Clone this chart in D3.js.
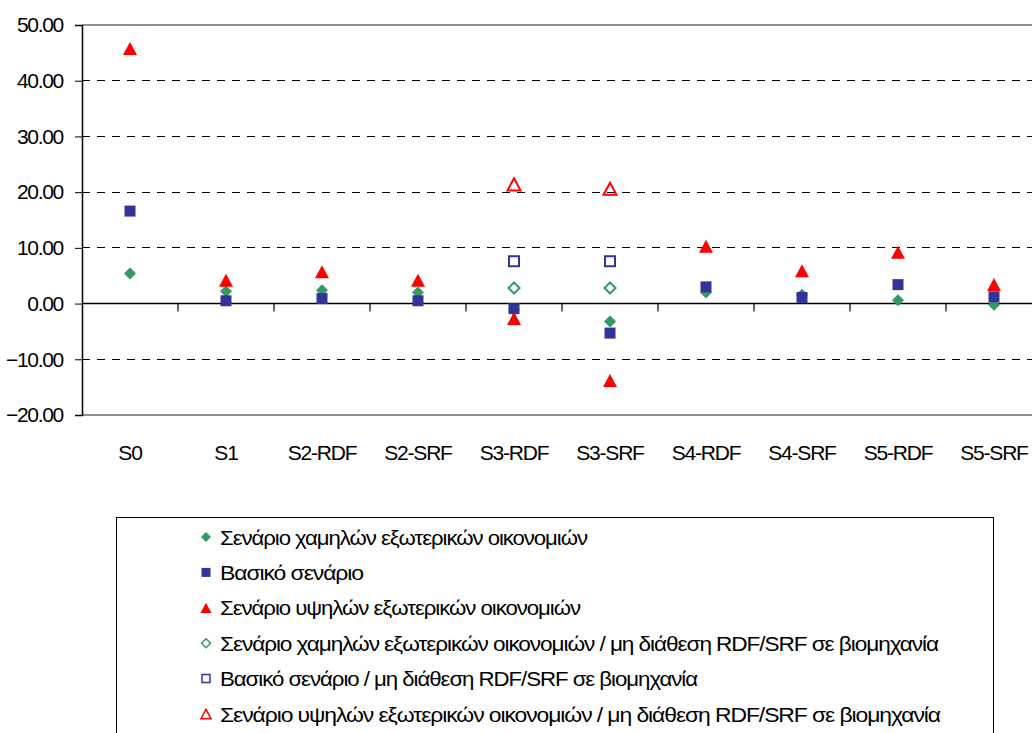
<!DOCTYPE html>
<html>
<head>
<meta charset="utf-8">
<script src="https://cdn.jsdelivr.net/npm/d3@7"></script>
<style>
  html, body { margin: 0; padding: 0; background: #fff; }
  svg { display: block; font-family: "Liberation Sans", Arial, sans-serif; }
</style>
</head>
<body>
<svg id="chart" width="1032" height="733"></svg>
<script>
// Scenario categories along the horizontal axis
const categories = ["S0", "S1", "S2-RDF", "S2-SRF", "S3-RDF", "S3-SRF", "S4-RDF", "S4-SRF", "S5-RDF", "S5-SRF"];

// Series values (null = no point for that scenario)
const lowExternal   = [5.4, 2.2, 2.4, 2.0, -1.2, -3.2, 2.0, 1.6, 0.6, -0.2];
const baseScenario  = [16.6, 0.5, 0.9, 0.5, -0.9, -5.3, 3.0, 1.1, 3.4, 1.2];
const highExternal  = [45.8, 4.2, 5.7, 4.2, -2.7, -13.8, 10.3, 5.9, 9.2, 3.4];
const lowNoIndustry  = [null, null, null, null, 2.8, 2.8, null, null, null, null];
const baseNoIndustry = [null, null, null, null, 7.6, 7.6, null, null, null, null];
const highNoIndustry = [null, null, null, null, 21.4, 20.6, null, null, null, null];

const yTicks = [-20, -10, 0, 10, 20, 30, 40, 50];

const seriesNames = [
  "Σενάριο χαμηλών εξωτερικών οικονομιών",
  "Βασικό σενάριο",
  "Σενάριο υψηλών εξωτερικών οικονομιών",
  "Σενάριο χαμηλών εξωτερικών οικονομιών / μη διάθεση RDF/SRF σε βιομηχανία",
  "Βασικό σενάριο / μη διάθεση RDF/SRF σε βιομηχανία",
  "Σενάριο υψηλών εξωτερικών οικονομιών / μη διάθεση RDF/SRF σε βιομηχανία"
];

const GREEN = "#339966", BLUE = "#333399", RED = "#ff0000";

// Marker shapes: diamond (rotated square), square, triangle with bbox centred on the value
const diamondShape = { draw(ctx, size) { const r = Math.sqrt(size) / 2; ctx.moveTo(0, -r); ctx.lineTo(r, 0); ctx.lineTo(0, r); ctx.lineTo(-r, 0); ctx.closePath(); } };
const squareShape  = { draw(ctx, size) { const r = Math.sqrt(size) / 2; ctx.rect(-r, -r, 2 * r, 2 * r); } };
const triangleShape = { draw(ctx, size) { const w = Math.sqrt(size) / 2, h = w * 0.93; ctx.moveTo(0, -h); ctx.lineTo(w, h); ctx.lineTo(-w, h); ctx.closePath(); } };

const series = [
  { name: seriesNames[0], values: lowExternal,    shape: diamondShape,  size: 144, color: GREEN, filled: true },
  { name: seriesNames[1], values: baseScenario,   shape: squareShape,   size: 121, color: BLUE,  filled: true },
  { name: seriesNames[2], values: highExternal,   shape: triangleShape, size: 196, color: RED,   filled: true },
  { name: seriesNames[3], values: lowNoIndustry,  shape: diamondShape,  size: 121, color: GREEN, filled: false },
  { name: seriesNames[4], values: baseNoIndustry, shape: squareShape,   size: 100, color: BLUE,  filled: false },
  { name: seriesNames[5], values: highNoIndustry, shape: triangleShape, size: 169, color: RED,   filled: false }
];

const svg = d3.select("#chart");
const plot = { left: 82, right: 1042, top: 25, bottom: 415 };

const x = d3.scaleBand().domain(categories).range([plot.left, plot.right]).padding(0);
const y = d3.scaleLinear().domain([-20, 50]).range([plot.bottom, plot.top]);

// Dashed gridlines
svg.append("g")
  .selectAll("line")
  .data(yTicks.filter(v => v !== 0 && v !== 50 && v !== -20))
  .join("line")
  .attr("x1", plot.left).attr("x2", plot.right)
  .attr("y1", d => y(d)).attr("y2", d => y(d))
  .attr("stroke", "#000").attr("stroke-width", 1)
  .attr("stroke-dasharray", "8,7")
  .attr("shape-rendering", "crispEdges");

// Plot area top and bottom borders
svg.append("g").selectAll("line")
  .data([50, -20])
  .join("line")
  .attr("x1", plot.left).attr("x2", plot.right)
  .attr("y1", d => y(d)).attr("y2", d => y(d))
  .attr("stroke", "#909090").attr("stroke-width", 2);

// Left value axis
const yAxis = svg.append("g")
  .attr("transform", `translate(${plot.left},0)`)
  .call(d3.axisLeft(y).tickValues(yTicks).tickFormat(d3.format(".2f")).tickSize(7).tickPadding(12));
yAxis.select(".domain").attr("stroke", "#000").attr("stroke-width", 1.5);
yAxis.selectAll(".tick line").attr("stroke", "#000");
yAxis.selectAll(".tick text")
  .attr("fill", "#000")
  .style("font-family", "'Liberation Sans', Arial, sans-serif")
  .style("font-size", "21px")
  .style("letter-spacing", "-1.3px");

// Zero line with category separator ticks
svg.append("line")
  .attr("x1", plot.left).attr("x2", plot.right)
  .attr("y1", y(0)).attr("y2", y(0))
  .attr("stroke", "#000").attr("stroke-width", 1.5);
svg.append("g").selectAll("line")
  .data(categories.slice(1))
  .join("line")
  .attr("x1", d => x(d)).attr("x2", d => x(d))
  .attr("y1", y(0)).attr("y2", y(0) + 8)
  .attr("stroke", "#000").attr("stroke-width", 1.2);

// Category labels below the plot
const xAxis = svg.append("g")
  .attr("transform", `translate(0,${plot.bottom})`)
  .call(d3.axisBottom(x).tickSize(0).tickPadding(30));
xAxis.select(".domain").remove();
xAxis.selectAll(".tick text")
  .attr("fill", "#000")
  .style("font-family", "'Liberation Sans', Arial, sans-serif")
  .style("font-size", "21px")
  .style("letter-spacing", "-1.2px");

// Markers
series.forEach(s => {
  const sym = d3.symbol().type(s.shape).size(s.size);
  svg.append("g")
    .selectAll("path")
    .data(categories.map((c, i) => ({ c, v: s.values[i] })).filter(d => d.v != null))
    .join("path")
    .attr("transform", d => `translate(${x(d.c) + x.bandwidth() / 2},${y(d.v)})`)
    .attr("d", sym)
    .attr("fill", s.filled ? s.color : "none")
    .attr("stroke", s.filled ? "none" : s.color)
    .attr("stroke-width", s.filled ? 0 : 2);
});

// Legend
const legend = svg.append("g");
legend.append("rect")
  .attr("x", 116.5).attr("y", 517.5)
  .attr("width", 877).attr("height", 260)
  .attr("fill", "none").attr("stroke", "#000").attr("stroke-width", 1);

const legendSizes = [100, 81, 121, 81, 64, 100];
const legendTextWidths = [367, 143, 360, 718, 477, 720];
series.forEach((s, i) => {
  const cy = 537 + i * 35.4;
  legend.append("path")
    .attr("transform", `translate(206,${cy})`)
    .attr("d", d3.symbol().type(s.shape).size(legendSizes[i]))
    .attr("fill", s.filled ? s.color : "none")
    .attr("stroke", s.filled ? "none" : s.color)
    .attr("stroke-width", s.filled ? 0 : 1.5);
  legend.append("text")
    .attr("x", 220).attr("y", cy + 7.5)
    .attr("fill", "#000")
    .attr("textLength", legendTextWidths[i])
    .attr("lengthAdjust", "spacingAndGlyphs")
    .style("font-size", "21px")
    .style("letter-spacing", "-1px")
    .text(s.name);
});
</script>
</body>
</html>
